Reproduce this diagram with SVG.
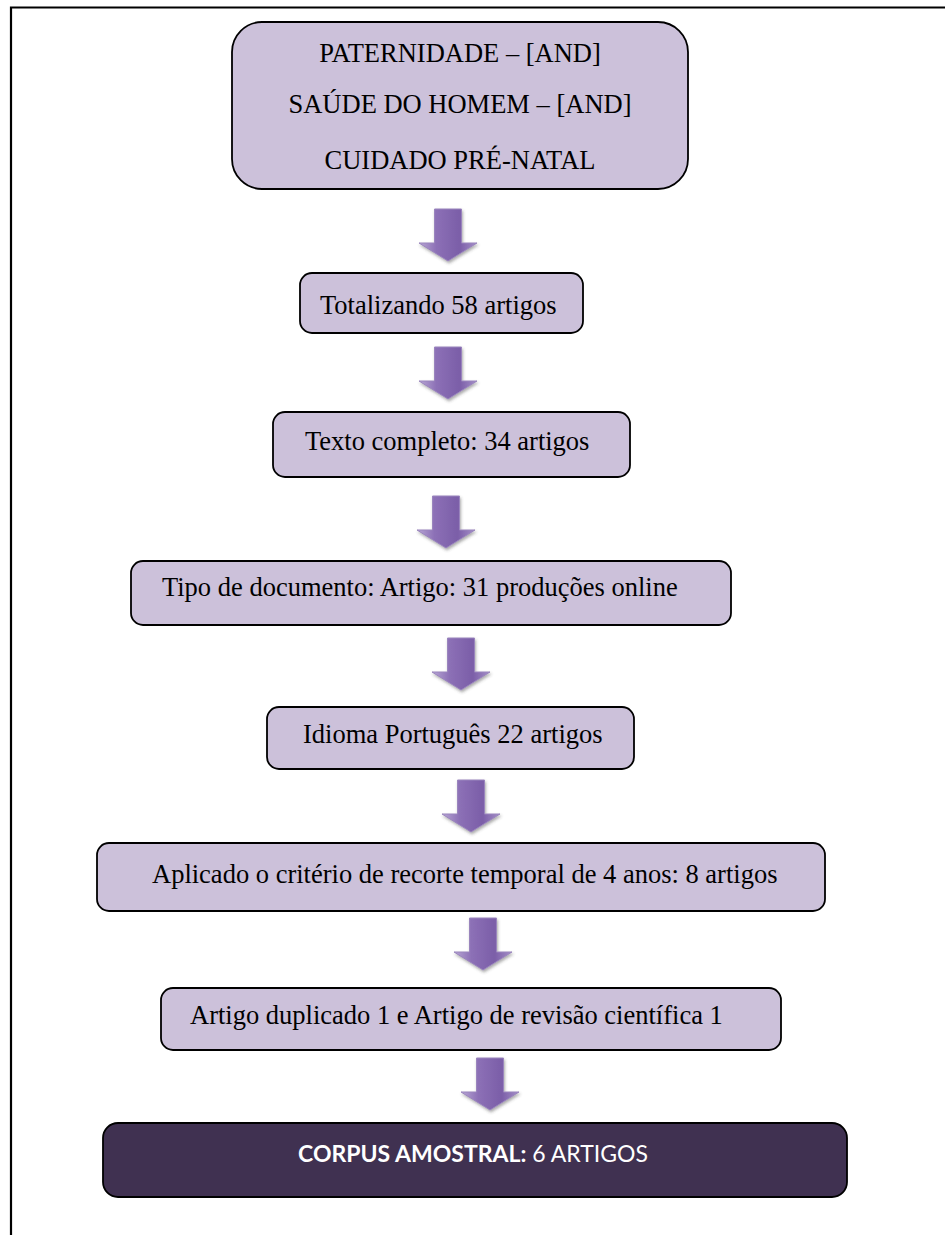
<svg xmlns="http://www.w3.org/2000/svg" xmlns:xlink="http://www.w3.org/1999/xlink" width="945" height="1235" viewBox="0 0 945 1235">
<style>
.box{fill:#ccc1da;stroke:#000;stroke-width:1.8}
.dark{fill:#403151;stroke:#000;stroke-width:1.8}
.t{font-family:"Liberation Serif","Times New Roman",serif;font-size:26.5px;fill:#000}
.c{font-family:Lato,"Open Sans",sans-serif;font-size:23px;fill:#fff}
</style>
<defs>
<linearGradient id="ag" x1="0" y1="0" x2="1" y2="0">
<stop offset="0" stop-color="#b8a6d4"/>
<stop offset="0.3" stop-color="#8c70b6"/>
<stop offset="0.7" stop-color="#7b5ea8"/>
<stop offset="1" stop-color="#a58fc8"/>
</linearGradient>
<filter id="sh" x="-30%" y="-20%" width="160%" height="150%">
<feDropShadow dx="1" dy="2" stdDeviation="1.5" flood-color="#444" flood-opacity="0.45"/>
</filter>
<path id="arr" d="M-13.5,0 H13.5 V34 H29 L0,52 L-29,34 H-13.5 Z" fill="url(#ag)" stroke="#9a85bd" stroke-width="1" filter="url(#sh)"/>
</defs>
<rect width="945" height="1235" fill="#fff"/>
<path d="M11,1235 V7.5 H945" fill="none" stroke="#000" stroke-width="2.2"/>

<g id="connectors">
<use xlink:href="#arr" x="448" y="209"/>
<use xlink:href="#arr" x="448" y="347"/>
<use xlink:href="#arr" x="446" y="496"/>
<use xlink:href="#arr" x="461" y="638"/>
<use xlink:href="#arr" x="471" y="780"/>
<use xlink:href="#arr" x="483" y="918"/>
<use xlink:href="#arr" x="490" y="1058"/>
</g>

<g id="n1">
<rect class="box" x="232" y="22" width="456" height="167" rx="30"/>
<text class="t" x="460" y="62" text-anchor="middle">PATERNIDADE – [AND]</text>
<text class="t" x="460" y="113" text-anchor="middle">SAÚDE DO HOMEM – [AND]</text>
<text class="t" x="460" y="169" text-anchor="middle">CUIDADO PRÉ-NATAL</text>
</g>
<g id="n2">
<rect class="box" x="300" y="273" width="283" height="60" rx="12"/>
<text class="t" x="320" y="314">Totalizando 58 artigos</text>
</g>
<g id="n3">
<rect class="box" x="273" y="412" width="357" height="65" rx="12"/>
<text class="t" x="305" y="450">Texto completo: 34 artigos</text>
</g>
<g id="n4">
<rect class="box" x="131" y="561" width="600" height="64" rx="12"/>
<text class="t" x="162" y="596">Tipo de documento: Artigo: 31 produções online</text>
</g>
<g id="n5">
<rect class="box" x="267" y="707" width="367" height="62" rx="12"/>
<text class="t" x="303" y="743">Idioma Português 22 artigos</text>
</g>
<g id="n6">
<rect class="box" x="97" y="843" width="728" height="68" rx="12"/>
<text class="t" x="152" y="883">Aplicado o critério de recorte temporal de 4 anos: 8 artigos</text>
</g>
<g id="n7">
<rect class="box" x="161" y="988" width="620" height="62" rx="12"/>
<text class="t" x="190" y="1024">Artigo duplicado 1 e Artigo de revisão científica 1</text>
</g>
<g id="n8">
<rect class="dark" x="103" y="1123" width="744" height="74" rx="15"/>
<text class="c" x="473" y="1162" text-anchor="middle"><tspan font-weight="bold">CORPUS AMOSTRAL:</tspan> 6 ARTIGOS</text>
</g>
</svg>
